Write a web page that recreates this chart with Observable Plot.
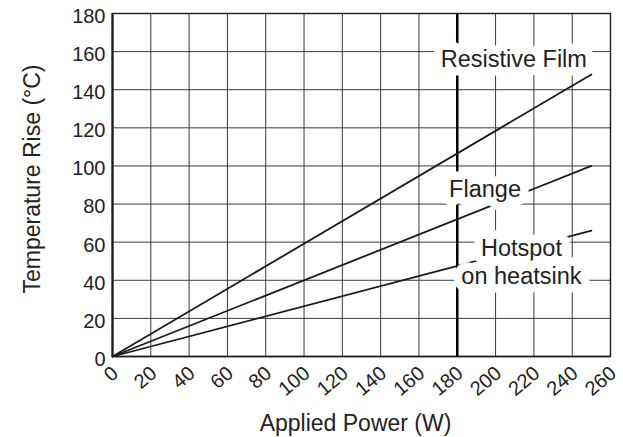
<!DOCTYPE html>
<html><head><meta charset="utf-8">
<script src="https://cdn.jsdelivr.net/npm/d3@7"></script>
<script src="https://cdn.jsdelivr.net/npm/@observablehq/plot@0.6"></script>
<style>html,body{margin:0;padding:0;background:#fff} svg{display:block}</style>
</head><body><div id="chart"></div>
<script>
// ---- data ----
const power = [0, 250];                 // Applied Power (W)
const resistiveFilm = [0, 148];         // Temperature rise (°C)
const flange = [0, 100];
const hotspot = [0, 66];
const seriesNames = ["Resistive Film", "Flange", "Hotspot on heatsink"];
const labelTexts = ["Resistive Film", "Flange", "Hotspot\non heatsink"];
const labelPower = [209.5, 194.5, 213.5];
const labelTemp = [156.5, 88.5, 50];
const markerPower = [180];
const xTicks = [0, 20, 40, 60, 80, 100, 120, 140, 160, 180, 200, 220, 240, 260];
const yTicks = [0, 20, 40, 60, 80, 100, 120, 140, 160, 180];
const xTitle = "Applied Power (W)";
const yTitle = "Temperature Rise (°C)";

// ---- tables ----
const seriesValues = [resistiveFilm, flange, hotspot];
const rows = [];
seriesNames.forEach((s, i) => power.forEach((p, j) => rows.push({series: s, power: p, temp: seriesValues[i][j]})));
const labels = labelTexts.map((t, i) => ({text: t, power: labelPower[i], temp: labelTemp[i]}));

const ink = "#1a1a1a";
const chart = Plot.plot({
  width: 623, height: 437,
  marginLeft: 112, marginRight: 13, marginTop: 13, marginBottom: 81,
  style: {fontFamily: "'Liberation Sans', Arial, sans-serif", background: "#fff", color: ink},
  x: {domain: [0, 260], label: null},
  y: {domain: [0, 180], label: null},
  marks: [
    Plot.gridX(xTicks, {stroke: "#3a3a3a", strokeOpacity: 1, strokeWidth: 1}),
    Plot.gridY(yTicks, {stroke: "#3a3a3a", strokeOpacity: 1, strokeWidth: 1}),
    Plot.ruleX(markerPower, {stroke: "#000", strokeWidth: 2.5}),
    Plot.line(rows.filter(d => d.series !== "Resistive Film"), {x: "power", y: "temp", z: "series", stroke: ink, strokeWidth: 1.8}),
    Plot.text(labels, {x: "power", y: "temp", text: "text", fontSize: 23.5, lineHeight: 1.18, fill: "#222", stroke: "white", strokeWidth: 17}),
    Plot.line(rows.filter(d => d.series === "Resistive Film"), {x: "power", y: "temp", stroke: ink, strokeWidth: 1.8}),
    Plot.frame({stroke: ink, strokeWidth: 1.4}),
    Plot.ruleX([0], {stroke: ink, strokeWidth: 2.2}),
    Plot.ruleY([0], {stroke: ink, strokeWidth: 1.6}),
    Plot.axisX({ticks: xTicks, tickSize: 0, tickPadding: 14, tickRotate: -40, fontSize: 20, label: null, dx: 3, fill: "#222"}),
    Plot.axisY({ticks: yTicks, tickSize: 0, tickPadding: 7, fontSize: 20, label: null, dy: 3, fill: "#222"}),
    Plot.text([xTitle], {frameAnchor: "bottom", textAnchor: "middle", lineAnchor: "middle", dx: -6, dy: 67, text: d => d, fontSize: 23, fill: "#222"}),
    Plot.text([yTitle], {frameAnchor: "left", textAnchor: "middle", lineAnchor: "middle", dx: -80, dy: -6, rotate: -90, text: d => d, fontSize: 23, fill: "#222"})
  ]
});
document.getElementById("chart").append(chart);
</script>
</body></html>
